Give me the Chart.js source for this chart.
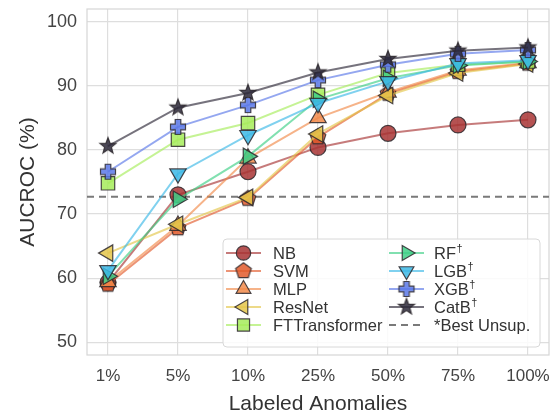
<!DOCTYPE html>
<html>
<head>
<meta charset="utf-8">
<script src="https://cdn.jsdelivr.net/npm/chart.js@4.4.1/dist/chart.umd.min.js"></script>
<style>
  html, body { margin: 0; padding: 0; background: #fff; }
</style>
</head>
<body>
<canvas id="chart" width="552" height="417"></canvas>
<script>
// data
const xLabels = ['1%', '5%', '10%', '25%', '50%', '75%', '100%'];
const yTicks = [50, 60, 70, 80, 90, 100];
const models = ['NB', 'SVM', 'MLP', 'ResNet', 'FTTransformer', 'RF†', 'LGB†', 'XGB†', 'CatB†'];

const NB     = [59.3, 73.0, 76.6, 80.4, 82.6, 83.9, 84.7];
const SVM    = [59.0, 67.8, 72.4, 82.0, 88.8, 92.2, 93.5];
const MLP    = [59.4, 68.2, 78.7, 85.0, 89.0, 92.4, 93.6];
const ResNet = [63.9, 68.4, 72.6, 82.5, 88.5, 92.0, 93.4];
const FTT    = [74.8, 81.6, 84.2, 88.6, 92.0, 93.3, 93.8];
const RF     = [60.3, 72.3, 79.0, 87.9, 91.2, 93.2, 93.8];
const LGB    = [61.2, 76.3, 82.3, 87.3, 90.7, 93.5, 94.0];
const XGB    = [76.6, 83.6, 87.0, 90.9, 93.3, 95.0, 95.6];
const CatB   = [80.6, 86.6, 88.9, 92.1, 94.2, 95.5, 96.0];
const scores = [NB, SVM, MLP, ResNet, FTT, RF, LGB, XGB, CatB];

const bestUnsup = 72.7;
const bestUnsupLabel = '*Best Unsup.';

// styling
const fills = ['#a83434', '#e25a2c', '#f18a4a', '#e4c64a', '#a6ec5a', '#3ecf86', '#3cb8e6', '#5a78e8', '#2c2838'];
const edge = 'rgba(45,40,45,0.85)';
const FONT = "'Liberation Sans', Arial, sans-serif";

function rgba(hex, a) {
  const n = parseInt(hex.slice(1), 16);
  return `rgba(${n >> 16},${(n >> 8) & 255},${n & 255},${a})`;
}

// custom markers that Chart.js does not ship with
function shapeCanvas(kind, fill) {
  const s = 22;
  const cv = document.createElement('canvas');
  cv.width = s; cv.height = s;
  const c = cv.getContext('2d');
  const m = s / 2;
  c.beginPath();
  if (kind === 'pentagon') {
    const r = 8.2;
    for (let i = 0; i < 5; i++) {
      const a = -Math.PI / 2 + i * 2 * Math.PI / 5;
      c.lineTo(m + r * Math.cos(a), m + r * Math.sin(a));
    }
  } else if (kind === 'plus') {
    const a = 7.5, b = 2.8;
    const pts = [[-b,-a],[b,-a],[b,-b],[a,-b],[a,b],[b,b],[b,a],[-b,a],[-b,b],[-a,b],[-a,-b],[-b,-b]];
    pts.forEach(p => c.lineTo(m + p[0], m + p[1]));
  } else if (kind === 'star') {
    const ro = 8.5, ri = 3.6;
    for (let i = 0; i < 10; i++) {
      const r = i % 2 ? ri : ro;
      const a = -Math.PI / 2 + i * Math.PI / 5;
      c.lineTo(m + r * Math.cos(a), m + r * Math.sin(a));
    }
  }
  c.closePath();
  c.fillStyle = rgba(fill, 0.85);
  c.fill();
  c.lineWidth = 1.2;
  c.strokeStyle = edge;
  c.stroke();
  return cv;
}

const markers = [
  { style: 'circle', radius: 8, rotation: 0 },
  { style: shapeCanvas('pentagon', fills[1]), radius: 8, rotation: 0 },
  { style: 'triangle', radius: 9.5, rotation: 0 },
  { style: 'triangle', radius: 9.5, rotation: -90 },
  { style: 'rect', radius: 9.5, rotation: 0 },
  { style: 'triangle', radius: 9.5, rotation: 90 },
  { style: 'triangle', radius: 9.5, rotation: 180 },
  { style: shapeCanvas('plus', fills[7]), radius: 8, rotation: 0 },
  { style: shapeCanvas('star', fills[8]), radius: 8, rotation: 0 }
];

const datasets = models.map((name, i) => ({
  label: name,
  data: scores[i].map((v, k) => ({ x: k, y: v })),
  borderColor: rgba(fills[i], 0.65),
  borderWidth: 2,
  backgroundColor: rgba(fills[i], 0.85),
  pointBackgroundColor: rgba(fills[i], 0.85),
  pointBorderColor: edge,
  pointBorderWidth: 1.2,
  pointStyle: markers[i].style,
  pointRadius: markers[i].radius,
  pointHoverRadius: markers[i].radius,
  pointRotation: markers[i].rotation,
  tension: 0,
  clip: false,
  order: models.length - i
}));

datasets.push({
  label: bestUnsupLabel,
  data: [{ x: -0.3, y: bestUnsup }, { x: 6.3, y: bestUnsup }],
  borderColor: '#7a7a7a',
  borderWidth: 2.2,
  borderDash: [7, 5],
  pointRadius: 0,
  order: 100
});

// light frame round the plot area
const frame = {
  id: 'frame',
  beforeDatasetsDraw(chart) {
    const { ctx, chartArea: a } = chart;
    ctx.save();
    ctx.strokeStyle = '#d6d6d6';
    ctx.lineWidth = 1.2;
    ctx.strokeRect(a.left, a.top, a.right - a.left, a.bottom - a.top);
    ctx.restore();
  }
};

// two-column legend inside the plot, bottom right
const legendBox = {
  id: 'legendBox',
  afterDatasetsDraw(chart) {
    const { ctx, chartArea: a } = chart;
    const L = a.right - 326, R = a.right - 9, B = a.bottom - 8, T = B - 108;
    ctx.save();
    ctx.beginPath();
    ctx.roundRect(L, T, R - L, B - T, 4);
    ctx.fillStyle = 'rgba(255,255,255,0.85)';
    ctx.fill();
    ctx.strokeStyle = '#d8d8d8';
    ctx.lineWidth = 1;
    ctx.stroke();

    const cols = [L + 3, L + 166];
    chart.data.datasets.forEach((ds, i) => {
      const col = i < 5 ? 0 : 1;
      const row = i % 5;
      const x0 = cols[col], y = T + 14 + row * 18;
      ctx.save();
      ctx.strokeStyle = ds.borderColor;
      ctx.lineWidth = ds.borderWidth;
      ctx.setLineDash(ds.borderDash || []);
      ctx.beginPath();
      ctx.moveTo(x0, y);
      ctx.lineTo(x0 + 35, y);
      ctx.stroke();
      ctx.restore();
      if (ds.pointRadius) {
        ctx.save();
        ctx.fillStyle = ds.pointBackgroundColor;
        ctx.strokeStyle = ds.pointBorderColor;
        ctx.lineWidth = ds.pointBorderWidth;
        Chart.helpers.drawPoint(ctx, {
          pointStyle: ds.pointStyle,
          radius: ds.pointRadius * 0.9,
          rotation: ds.pointRotation,
          borderWidth: ds.pointBorderWidth
        }, x0 + 17.5, y);
        ctx.restore();
      }
      const tx = x0 + (col === 0 ? 47 : 45);
      ctx.fillStyle = '#333';
      ctx.textBaseline = 'middle';
      ctx.font = `16.5px ${FONT}`;
      let text = ds.label;
      const dagger = text.endsWith('†');
      if (dagger) text = text.slice(0, -1);
      ctx.fillText(text, tx, y + 1);
      if (dagger) {
        const w = ctx.measureText(text).width;
        ctx.font = `11px ${FONT}`;
        ctx.fillText('†', tx + w + 0.5, y - 4);
      }
    });
    ctx.restore();
  }
};

new Chart(document.getElementById('chart'), {
  type: 'line',
  data: { datasets },
  options: {
    responsive: false,
    animation: false,
    events: [],
    // markers would otherwise push the plot in from the edges
    layout: { autoPadding: false, padding: { top: 9, right: 3, bottom: 0, left: 0 } },
    plugins: { legend: { display: false }, tooltip: { enabled: false } },
    scales: {
      x: {
        type: 'linear',
        min: -0.3,
        max: 6.3,
        afterBuildTicks: s => { s.ticks = xLabels.map((_, i) => ({ value: i })); },
        // keep the plot wide: no extra room for the "100%" label
        afterFit: s => {
          s.height = 62;
          s.paddingLeft = s.paddingRight = 0;
          s._margins.right = 3;
          s.width = s.chart.width - s._margins.left - 3;
        },
        ticks: {
          callback: v => xLabels[v],
          color: '#444',
          font: { family: FONT, size: 17 },
          padding: 11,
          maxRotation: 0,
          autoSkip: false
        },
        grid: { color: '#dedede', lineWidth: 1.2, drawTicks: false },
        border: { display: false },
        title: {
          display: true,
          text: 'Labeled Anomalies',
          color: '#333',
          font: { family: FONT, size: 21 },
          padding: { top: 0, bottom: 0 }
        }
      },
      y: {
        type: 'linear',
        min: 48,
        max: 102,
        afterBuildTicks: s => { s.ticks = yTicks.map(v => ({ value: v })); },
        afterFit: s => { s.width = 87; s.paddingTop = s.paddingBottom = 0; },
        ticks: {
          color: '#444',
          font: { family: FONT, size: 18 },
          padding: 10
        },
        grid: { color: '#dedede', lineWidth: 1.2, drawTicks: false },
        border: { display: false },
        title: {
          display: true,
          text: 'AUCROC (%)',
          color: '#333',
          font: { family: FONT, size: 21 },
          padding: { top: 16, bottom: 0 }
        }
      }
    }
  },
  plugins: [frame, legendBox]
});
</script>
</body>
</html>
